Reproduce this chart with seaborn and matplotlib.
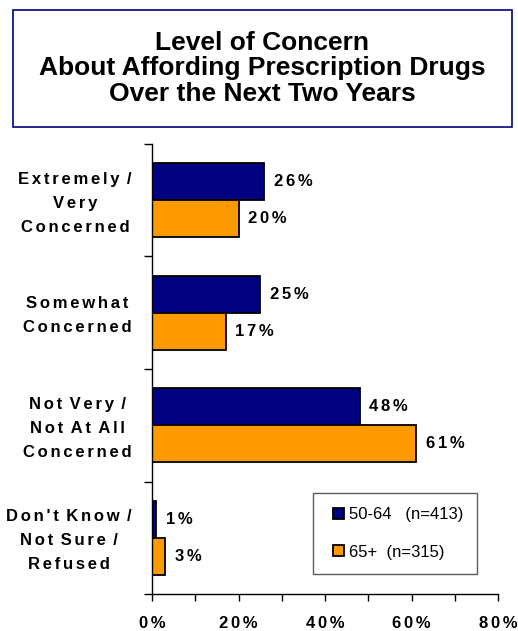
import matplotlib
matplotlib.use("Agg")
import matplotlib.pyplot as plt
from matplotlib.patches import Rectangle
from matplotlib.legend_handler import HandlerPatch
from matplotlib.transforms import ScaledTranslation
from matplotlib.ticker import MultipleLocator, FixedLocator
import seaborn as sns
import pandas as pd

# Survey responses, percent of each age group
categories = ["Extremely /\nVery\nConcerned",
              "Somewhat\nConcerned",
              "Not Very /\nNot At All\nConcerned",
              "Don't Know /\nNot Sure /\nRefused"]
groups = ["50-64   (n=413)", "65+  (n=315)"]
pct_50_64 = [26, 25, 48, 1]
pct_65_plus = [20, 17, 61, 3]
xtick_values = [0, 20, 40, 60, 80]

title = "Level of Concern\nAbout Affording Prescription Drugs\nOver the Next Two Years"

df = pd.DataFrame({
    "category": categories * 2,
    "group": [groups[0]] * len(categories) + [groups[1]] * len(categories),
    "pct": pct_50_64 + pct_65_plus,
})


def tracked(s, gap="\u2006"):
    """Widen letter spacing by putting a narrow space between glyphs."""
    out = []
    for i, ch in enumerate(s):
        out.append(ch)
        nxt = s[i + 1] if i + 1 < len(s) else "\n"
        if ch != "\n" and nxt not in " \n":
            out.append(gap)
    return "".join(out)


def square_handle(legend, orig_handle, xdescent, ydescent, width, height, fontsize):
    # square swatch sitting at the right end of the handle slot
    side = height
    return Rectangle((-xdescent + width - side, -ydescent), side, side)


sns.set_style("white")
plt.rcParams["font.family"] = ["Liberation Sans", "DejaVu Sans"]
plt.rcParams["text.color"] = "black"
plt.rcParams["xtick.color"] = "black"
plt.rcParams["ytick.color"] = "black"

W, H = 518, 631
fig = plt.figure(figsize=(W / 100, H / 100), dpi=100)
ax = fig.add_axes([152 / W, (H - 594) / H, 346 / W, 450 / H])

sns.barplot(data=df, y="category", x="pct", hue="group", orient="h",
            order=categories, hue_order=groups,
            palette=["#000080", "#FF9900"], saturation=1, width=0.66,
            edgecolor="black", linewidth=1.3, ax=ax)

for cont in ax.containers:
    ax.bar_label(cont, labels=[tracked(f"{v:.0f}%") for v in cont.datavalues],
                 padding=7, fontsize=12, fontweight="bold")

ax.set_xlim(0, 80)
ax.set_ylim(3.5, -0.5)
ax.set_xlabel("")
ax.set_ylabel("")
ax.xaxis.set_major_locator(FixedLocator(xtick_values))
ax.set_xticklabels([tracked(f"{v}%") for v in xtick_values],
                   fontsize=12, fontweight="bold")
ax.xaxis.set_minor_locator(MultipleLocator(10))
ax.tick_params(axis="x", which="both", direction="out", length=5, width=1,
               color="black", bottom=True, pad=11)

ax.set_yticks(range(len(categories)))
ax.set_yticklabels([tracked(c) for c in categories], fontsize=12,
                   fontweight="bold", multialignment="center", linespacing=1.75)
ax.yaxis.set_minor_locator(FixedLocator([-0.5, 0.5, 1.5, 2.5, 3.5]))
ax.tick_params(axis="y", which="major", length=0, pad=14.5)
ax.tick_params(axis="y", which="minor", direction="out", length=6, width=1,
               color="black", left=True)
lift = ScaledTranslation(0, 3 / 100, fig.dpi_scale_trans)
for lbl in ax.get_yticklabels():
    lbl.set_transform(lbl.get_transform() + lift)

for side in ("top", "right"):
    ax.spines[side].set_visible(False)
for side in ("left", "bottom"):
    ax.spines[side].set_color("black")
    ax.spines[side].set_linewidth(1.0)

leg = ax.legend(loc="upper left", bbox_to_anchor=((313 - 152) / 346, (594 - 493) / 450),
                fontsize=12, frameon=True, fancybox=False, edgecolor="#333333",
                handlelength=1.0, handleheight=0.65, handletextpad=0.3,
                labelspacing=1.35, borderpad=0.85, borderaxespad=0,
                handler_map={Rectangle: HandlerPatch(patch_func=square_handle)})
leg.get_frame().set_linewidth(1.0)
for h in leg.legend_handles:
    h.set_edgecolor("black")
    h.set_linewidth(1.3)

# Title panel
fig.patches.append(Rectangle((13 / W, (H - 127) / H), 499 / W, 117 / H,
                             transform=fig.transFigure, fill=False,
                             edgecolor="#000080", linewidth=1.2))
fig.text(262 / W, (H - 68.5) / H, title, ha="center", va="center",
         fontsize=19, fontweight="bold", linespacing=1.09)

fig.savefig("out.png", dpi=100)
